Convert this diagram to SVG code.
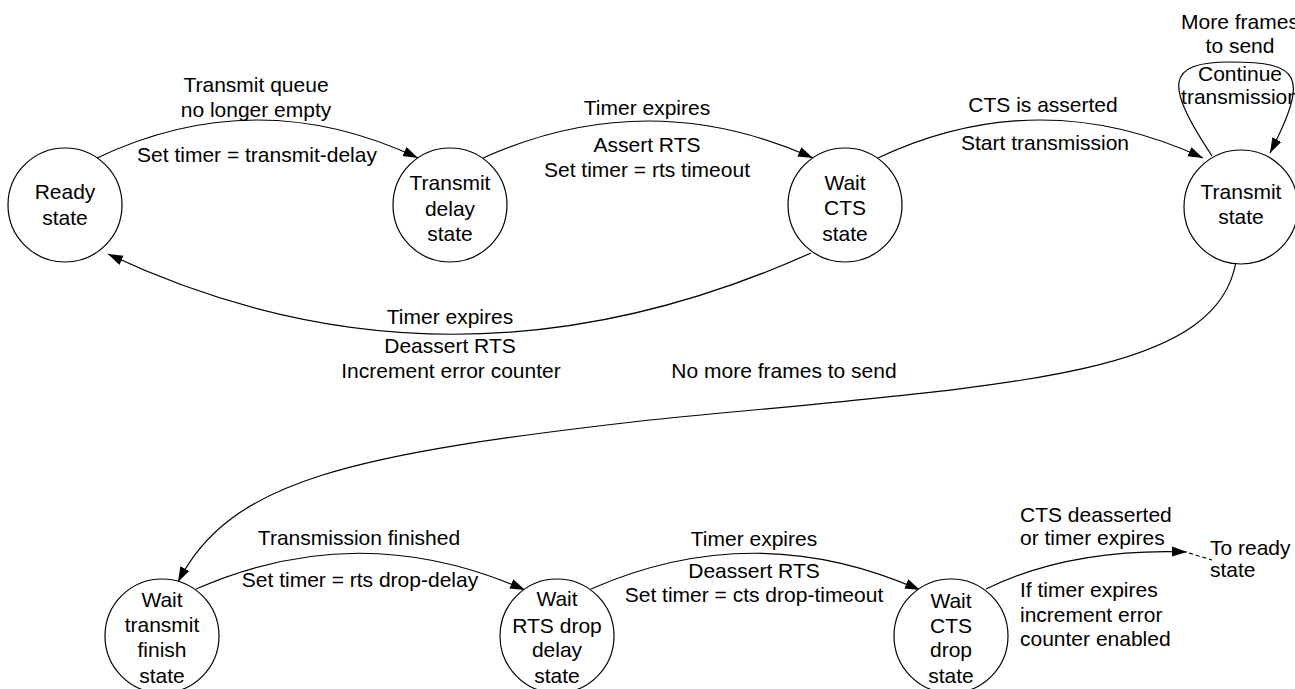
<svg xmlns="http://www.w3.org/2000/svg" width="1295" height="689" viewBox="0 0 1295 689">
<defs>
<marker id="arr" markerUnits="userSpaceOnUse" markerWidth="16" markerHeight="12" refX="15" refY="5" orient="auto">
<path d="M0,0 L15,5 L0,10 z" fill="#000"/>
</marker>
</defs>
<style>
text{font-family:"Liberation Sans",Arial,Helvetica,sans-serif;font-size:21px;fill:#000}
.c{text-anchor:middle}
.n circle{fill:#fff;stroke:#000;stroke-width:1.2}
.e path{fill:none;stroke:#000;stroke-width:1.2}
.a{marker-end:url(#arr)}
</style>
<rect width="1295" height="689" fill="#fff"/>
<g id="connectors" class="e">
<path class="a" d="M97,158 Q257,82 418,158"/>
<path class="a" d="M483,158 Q648,84 813,158"/>
<path class="a" d="M878,158 Q1040,82 1203,158"/>
<path class="a" d="M1212,156 C1165,85 1165,62 1230,62 C1300,62 1310,75 1270,153"/>
<path class="a" d="M811,253 Q450,415 108,254"/>
<path class="a" d="M1236,262 C1215,380 1000,385 650,420 C350,454 230,480 178,582"/>
<path class="a" d="M196,589 Q360,517 525,590"/>
<path class="a" d="M591,589 Q755,517 920,590"/>
<path class="a" d="M986,589 Q1070,548 1187,552"/>
<path d="M1189,553 L1212,560" stroke-dasharray="4,3"/>
</g>
<g id="labels">
<text class="c" x="256" y="92">Transmit queue</text>
<text class="c" x="256" y="117">no longer empty</text>
<text class="c" x="257" y="162">Set timer = transmit-delay</text>
<text class="c" x="647" y="115">Timer expires</text>
<text class="c" x="647" y="152">Assert RTS</text>
<text class="c" x="647" y="177">Set timer = rts timeout</text>
<text class="c" x="1043" y="112">CTS is asserted</text>
<text class="c" x="1045" y="150">Start transmission</text>
<text class="c" x="1240" y="29">More frames</text>
<text class="c" x="1240" y="53">to send</text>
<text class="c" x="1240" y="81">Continue</text>
<text class="c" x="1240" y="104">transmission</text>
<text class="c" x="450" y="324">Timer expires</text>
<text class="c" x="450" y="353">Deassert RTS</text>
<text class="c" x="451" y="378">Increment error counter</text>
<text class="c" x="784" y="378">No more frames to send</text>
<text class="c" x="359" y="545">Transmission finished</text>
<text class="c" x="360" y="587">Set timer = rts drop-delay</text>
<text class="c" x="754" y="546">Timer expires</text>
<text class="c" x="754" y="578">Deassert RTS</text>
<text class="c" x="754" y="602">Set timer = cts drop-timeout</text>
<text x="1020" y="522">CTS deasserted</text>
<text x="1020" y="545">or timer expires</text>
<text x="1210" y="555">To ready</text>
<text x="1210" y="577">state</text>
<text x="1020" y="597">If timer expires</text>
<text x="1020" y="622">increment error</text>
<text x="1020" y="646">counter enabled</text>
</g>
<g id="ready" class="n">
<circle cx="65" cy="205" r="57"/>
<text class="c" x="65" y="199">Ready</text>
<text class="c" x="65" y="225">state</text>
</g>
<g id="transmit-delay" class="n">
<circle cx="450" cy="205" r="57"/>
<text class="c" x="450" y="190">Transmit</text>
<text class="c" x="450" y="216">delay</text>
<text class="c" x="450" y="241">state</text>
</g>
<g id="wait-cts" class="n">
<circle cx="845" cy="205" r="57"/>
<text class="c" x="845" y="190">Wait</text>
<text class="c" x="845" y="215">CTS</text>
<text class="c" x="845" y="241">state</text>
</g>
<g id="transmit" class="n">
<circle cx="1241" cy="207" r="57"/>
<text class="c" x="1241" y="199">Transmit</text>
<text class="c" x="1241" y="224">state</text>
</g>
<g id="wait-transmit-finish" class="n">
<circle cx="162" cy="636" r="57"/>
<text class="c" x="162" y="607">Wait</text>
<text class="c" x="162" y="632">transmit</text>
<text class="c" x="162" y="657">finish</text>
<text class="c" x="162" y="683">state</text>
</g>
<g id="wait-rts-drop-delay" class="n">
<circle cx="557" cy="636" r="57"/>
<text class="c" x="557" y="606">Wait</text>
<text class="c" x="557" y="633">RTS drop</text>
<text class="c" x="557" y="657">delay</text>
<text class="c" x="557" y="683">state</text>
</g>
<g id="wait-cts-drop" class="n">
<circle cx="951" cy="636" r="57"/>
<text class="c" x="951" y="608">Wait</text>
<text class="c" x="951" y="633">CTS</text>
<text class="c" x="951" y="657">drop</text>
<text class="c" x="951" y="683">state</text>
</g>
</svg>
